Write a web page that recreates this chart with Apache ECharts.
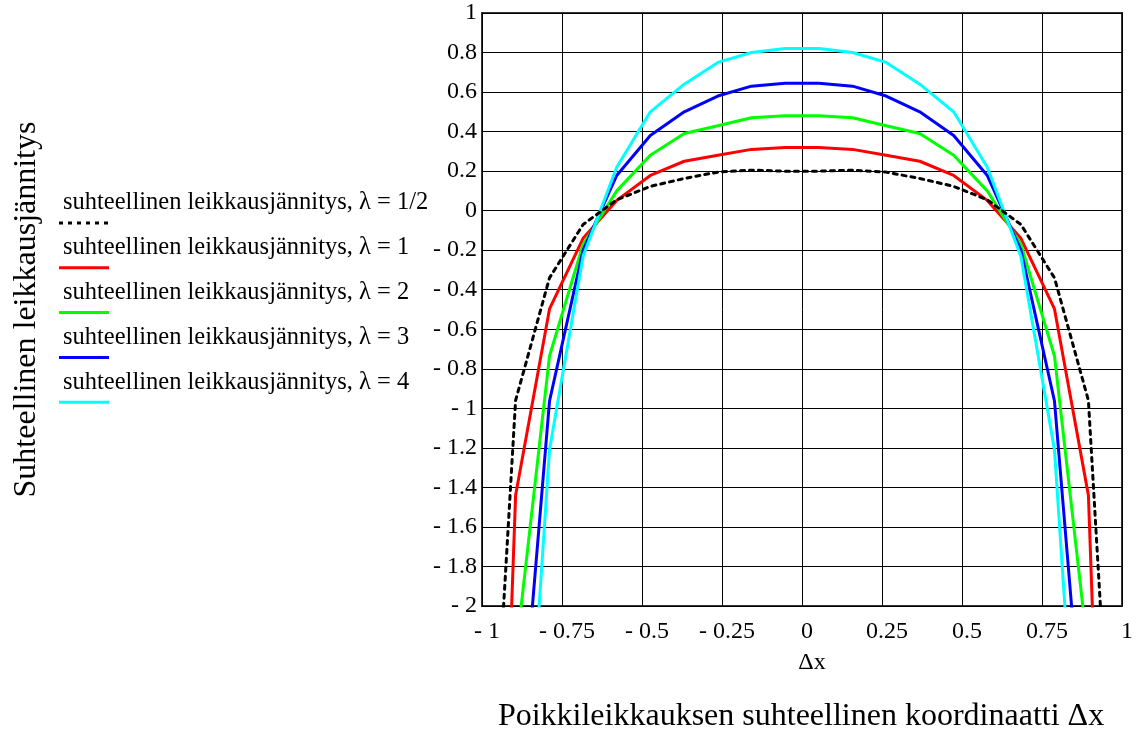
<!DOCTYPE html>
<html>
<head>
<meta charset="utf-8">
<script src="https://cdn.jsdelivr.net/npm/echarts@6/dist/echarts.min.js"></script>
<style>
  html, body { margin: 0; padding: 0; background: #fff; }
  #chart { width: 1138px; height: 729px; }
</style>
</head>
<body>
<div id="chart"></div>
<script>
// Relative cross-section coordinate Δx at the computed points
const xs = [-1, -0.895, -0.789, -0.684, -0.579, -0.474, -0.368, -0.263, -0.158, -0.053,
            0.053, 0.158, 0.263, 0.368, 0.474, 0.579, 0.684, 0.789, 0.895, 1];

// Relative shear stress for each λ
const stressHalf = [-3.87, -0.96, -0.34, -0.07, 0.055, 0.123, 0.163, 0.195, 0.205, 0.20,
                    0.20, 0.205, 0.195, 0.163, 0.123, 0.055, -0.07, -0.34, -0.96, -3.87];
const stress1 = [-6.2, -1.44, -0.497, -0.14, 0.052, 0.178, 0.25, 0.28, 0.31, 0.32,
                 0.32, 0.31, 0.28, 0.25, 0.178, 0.052, -0.14, -0.497, -1.44, -6.2];
const stress2 = [-9, -2.25, -0.735, -0.17, 0.10, 0.28, 0.39, 0.43, 0.47, 0.48,
                 0.48, 0.47, 0.43, 0.39, 0.28, 0.10, -0.17, -0.735, -2.25, -9];
const stress3 = [-12, -3.02, -0.963, -0.20, 0.178, 0.38, 0.50, 0.58, 0.63, 0.645,
                 0.645, 0.63, 0.58, 0.50, 0.38, 0.178, -0.20, -0.963, -3.02, -12];
const stress4 = [-15, -3.79, -1.21, -0.23, 0.22, 0.50, 0.64, 0.75, 0.80, 0.82,
                 0.82, 0.80, 0.75, 0.64, 0.50, 0.22, -0.23, -1.21, -3.79, -15];

const seriesNames = [
  'suhteellinen leikkausjännitys, λ = 1/2',
  'suhteellinen leikkausjännitys, λ = 1',
  'suhteellinen leikkausjännitys, λ = 2',
  'suhteellinen leikkausjännitys, λ = 3',
  'suhteellinen leikkausjännitys, λ = 4'
];

const xTickLabels = ['- 1', '- 0.75', '- 0.5', '- 0.25', '0', '0.25', '0.5', '0.75', '1'];
const yTickLabels = ['- 2', '- 1.8', '- 1.6', '- 1.4', '- 1.2', '- 1', '- 0.8', '- 0.6', '- 0.4', '- 0.2',
                     '0', '0.2', '0.4', '0.6', '0.8', '1'];

const yTitle = 'Suhteellinen leikkausjännitys';
const xName = 'Δx';
const xTitle = 'Poikkileikkauksen suhteellinen koordinaatti Δx';

const FONT = "'Liberation Serif', 'Times New Roman', serif";
const allStress = [stressHalf, stress1, stress2, stress3, stress4];
const colors = ['#000000', '#ff0000', '#00ff00', '#0000ff', '#00ffff'];
const dashes = [[4, 5], null, null, null, null];

const series = allStress.map((ys, i) => ({
  name: seriesNames[i],
  type: 'line',
  data: xs.map((x, k) => [x, ys[k]]),
  showSymbol: false,
  symbol: 'none',
  clip: true,
  lineStyle: {
    color: colors[i],
    width: 3,
    type: dashes[i] || 'solid',
    cap: dashes[i] ? 'round' : 'butt'
  },
  z: 3 + (i === 0 ? 5 : i)
}));

// Legend: text line with the line sample below it
const legendItems = [];
seriesNames.forEach((name, i) => {
  const ty = 203 + i * 44.8;
  legendItems.push({
    type: 'text',
    x: 63, y: ty,
    style: { text: name, font: "24.5px " + FONT, fill: '#000', textVerticalAlign: 'middle' }
  });
  legendItems.push({
    type: 'line',
    shape: { x1: 59, y1: ty + 20, x2: 109, y2: ty + 20 },
    style: { stroke: colors[i], lineWidth: 3, lineDash: dashes[i] || null }
  });
});

const chart = echarts.init(document.getElementById('chart'), null, { renderer: 'canvas' });
chart.setOption({
  backgroundColor: '#fff',
  animation: false,
  grid: {
    left: 482, top: 13, width: 640, height: 593,
    containLabel: false,
    outerBoundsMode: 'none',
    show: true, borderColor: '#333', borderWidth: 2, backgroundColor: 'transparent'
  },
  xAxis: {
    type: 'value', min: -1, max: 1, interval: 0.25,
    axisLine: { show: false },
    axisTick: { show: false },
    splitLine: { show: true, lineStyle: { color: '#000', width: 1 } },
    axisLabel: {
      margin: 14,
      color: '#000',
      fontFamily: FONT,
      fontSize: 24,
      padding: [0, 0, 0, 10],
      showMinLabel: true, showMaxLabel: true,
      formatter: (v, idx) => xTickLabels[idx]
    },
    name: xName,
    nameLocation: 'middle',
    nameGap: 45,
    nameTextStyle: { color: '#000', fontFamily: FONT, fontSize: 24, padding: [0, 0, 0, 20] }
  },
  yAxis: {
    type: 'value', min: -2, max: 1, interval: 0.2,
    axisLine: { show: false },
    axisTick: { show: false },
    splitLine: { show: true, lineStyle: { color: '#000', width: 1 } },
    axisLabel: {
      margin: 5,
      color: '#000',
      fontFamily: FONT,
      fontSize: 24,
      padding: [6, 0, 0, 0],
      showMinLabel: true, showMaxLabel: true,
      formatter: (v, idx) => yTickLabels[idx]
    },
    name: yTitle,
    nameLocation: 'middle',
    nameRotate: 90,
    nameGap: 439,
    nameTextStyle: { color: '#000', fontFamily: FONT, fontSize: 32 }
  },
  graphic: legendItems.concat([
    {
      type: 'text',
      x: 801, y: 717,
      style: {
        text: xTitle, font: "32px " + FONT, fill: '#000',
        textAlign: 'center', textVerticalAlign: 'middle'
      }
    }
  ]),
  series: series
});
</script>
</body>
</html>
